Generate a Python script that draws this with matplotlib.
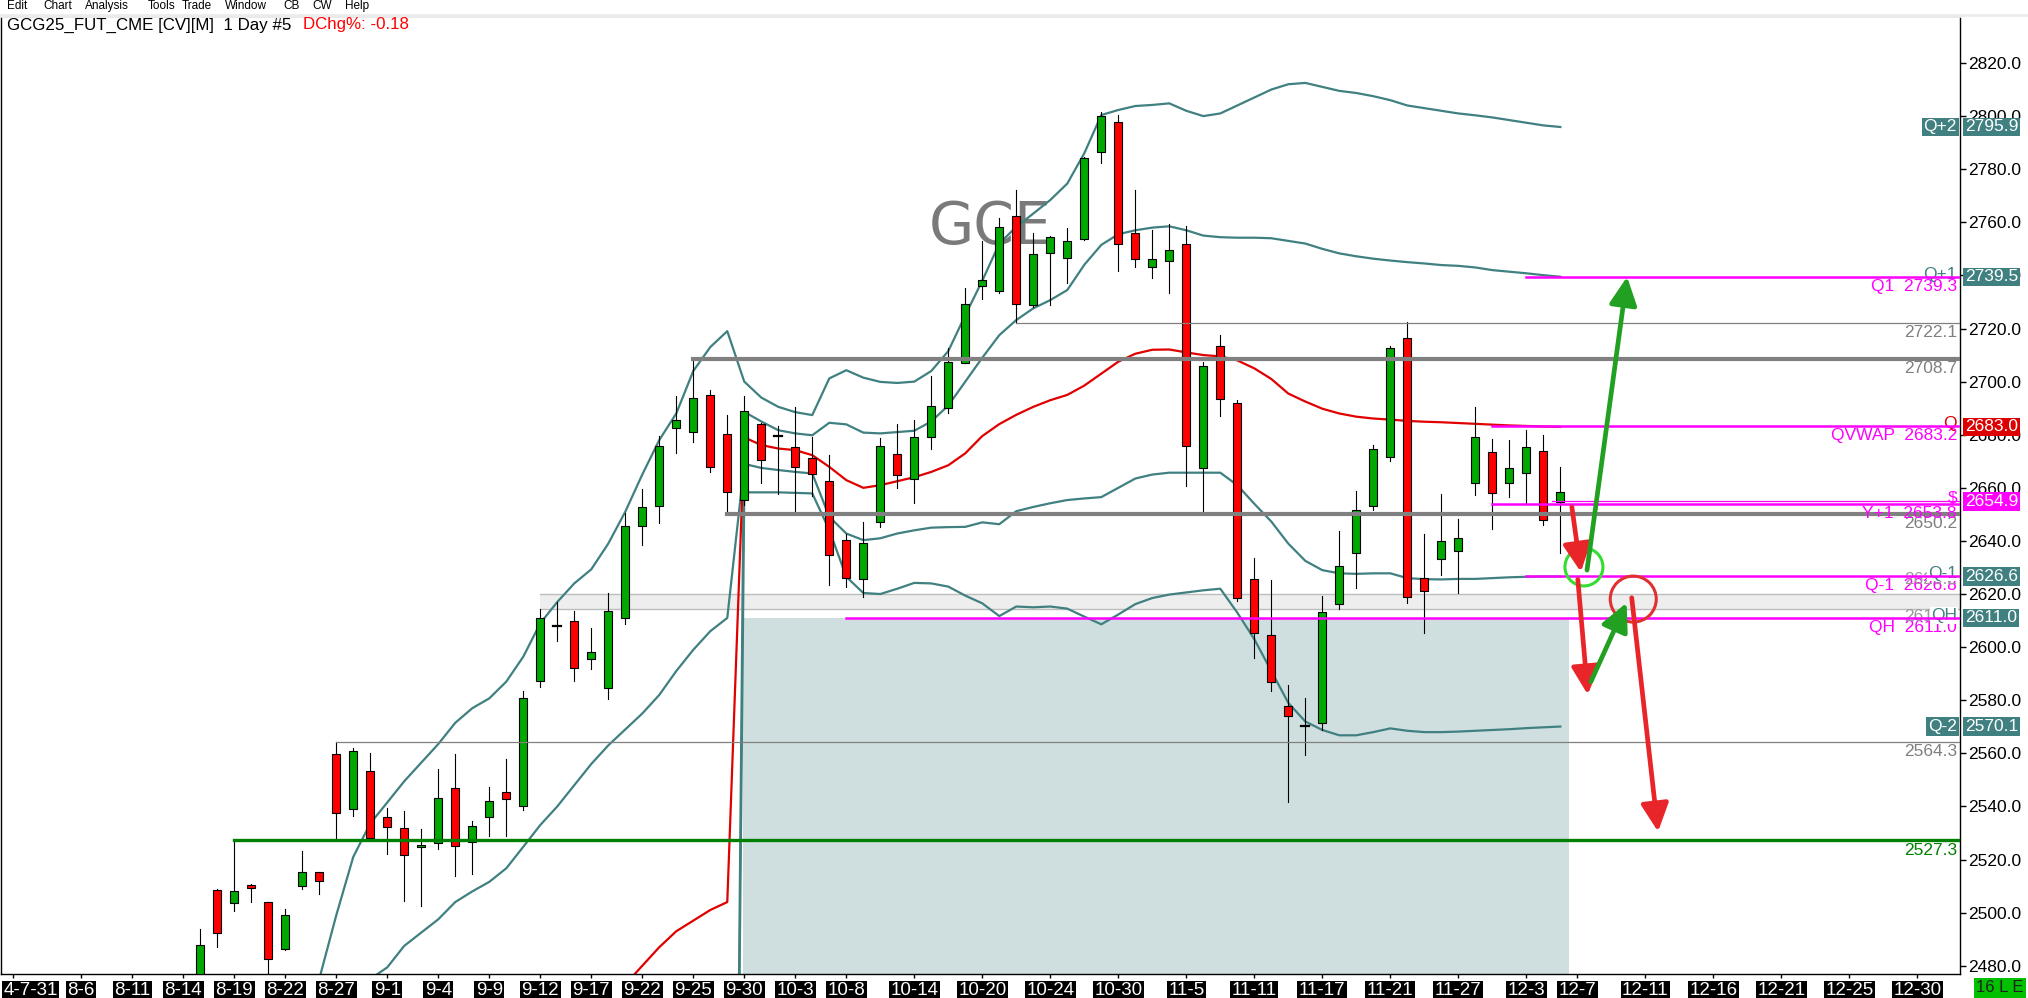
import numpy as np
import matplotlib.pyplot as plt
import matplotlib.transforms as mtransforms
from matplotlib.patches import Rectangle, Ellipse
from matplotlib.lines import Line2D

plt.rcParams['font.family'] = ['Liberation Sans', 'DejaVu Sans']

# daily bars, bar 0 = first visible candle (8-15)
opens = [2470.0, 2508.4, 2503.5, 2510.6, 2503.9, 2486.2, 2509.9, 2515.2, 2559.6, 2538.9,
         2553.2, 2535.9, 2531.7, 2524.6, 2526.1, 2546.8, 2526.5, 2535.9, 2545.3, 2540.3,
         2587.1, 2608.0, 2609.7, 2595.7, 2584.7, 2610.8, 2645.7, 2653.0, 2682.4, 2680.9,
         2694.8, 2680.1, 2655.6, 2684.2, 2679.6, 2675.2, 2671.4, 2662.4, 2640.2, 2625.5,
         2647.0, 2672.6, 2663.2, 2679.0, 2689.9, 2707.2, 2735.9, 2734.2, 2762.2, 2728.7,
         2748.3, 2746.4, 2753.6, 2786.3, 2797.6, 2755.8, 2743.0, 2745.6, 2752.0, 2667.5,
         2713.4, 2691.9, 2625.8, 2604.7, 2578.0, 2570.2, 2571.4, 2616.3, 2635.5, 2653.2,
         2671.5, 2716.6, 2625.9, 2633.1, 2636.1, 2661.7, 2673.4, 2661.7, 2665.4, 2673.7,
         2654.6]
highs = [2493.8, 2508.8, 2527.3, 2510.9, 2504.2, 2501.4, 2523.2, 2515.5, 2564.3, 2561.9,
         2560.1, 2539.3, 2538.3, 2531.5, 2554.1, 2559.7, 2534.5, 2547.3, 2557.8, 2583.3,
         2614.3, 2617.1, 2613.6, 2607.2, 2620.3, 2650.7, 2659.5, 2679.7, 2694.5, 2708.7,
         2696.7, 2687.4, 2694.5, 2684.5, 2683.1, 2690.4, 2679.2, 2672.3, 2642.7, 2647.0,
         2678.6, 2684.0, 2685.4, 2702.1, 2712.5, 2735.1, 2753.0, 2761.6, 2772.1, 2755.8,
         2754.8, 2757.8, 2784.6, 2801.5, 2800.6, 2772.1, 2757.1, 2759.2, 2758.5, 2707.3,
         2717.6, 2693.0, 2633.4, 2625.1, 2585.9, 2581.0, 2619.4, 2643.6, 2658.9, 2676.3,
         2713.6, 2722.6, 2642.6, 2657.7, 2648.2, 2690.4, 2678.3, 2678.0, 2681.8, 2679.9,
         2667.8]
lows = [2465.0, 2487.2, 2500.7, 2504.1, 2474.0, 2485.8, 2509.0, 2507.1, 2527.8, 2536.4,
        2527.6, 2522.1, 2504.5, 2502.6, 2523.8, 2513.9, 2514.4, 2528.8, 2528.8, 2538.8,
        2585.1, 2602.4, 2587.3, 2591.8, 2580.3, 2608.8, 2638.5, 2646.8, 2673.2, 2677.3,
        2666.0, 2650.2, 2653.5, 2661.9, 2657.8, 2651.2, 2657.0, 2623.4, 2622.7, 2618.7,
        2645.3, 2660.0, 2654.4, 2674.7, 2688.0, 2707.0, 2731.2, 2733.5, 2722.1, 2728.0,
        2728.9, 2737.0, 2753.2, 2782.2, 2741.8, 2743.0, 2739.2, 2733.2, 2660.8, 2651.0,
        2687.2, 2617.3, 2596.0, 2583.4, 2541.7, 2559.4, 2568.8, 2614.3, 2622.2, 2651.5,
        2670.0, 2616.7, 2605.4, 2627.3, 2620.5, 2657.4, 2644.6, 2656.7, 2654.0, 2646.1,
        2635.6]
closes = [2487.7, 2492.2, 2508.0, 2509.4, 2482.4, 2499.0, 2515.2, 2512.0, 2537.6, 2560.7,
          2528.0, 2532.1, 2521.9, 2525.3, 2543.0, 2525.0, 2532.5, 2541.9, 2542.7, 2580.7,
          2610.8, 2607.8, 2592.0, 2598.0, 2613.8, 2645.5, 2652.6, 2675.6, 2685.4, 2694.0,
          2667.8, 2658.3, 2689.1, 2670.6, 2679.4, 2667.7, 2665.3, 2634.8, 2626.1, 2639.4,
          2675.6, 2664.7, 2679.0, 2691.0, 2707.5, 2729.4, 2738.1, 2758.4, 2729.4, 2747.9,
          2754.3, 2752.8, 2784.4, 2799.9, 2751.7, 2746.0, 2746.0, 2749.7, 2675.6, 2706.0,
          2693.4, 2618.6, 2605.5, 2587.0, 2574.2, 2570.2, 2613.2, 2630.6, 2651.6, 2674.6,
          2712.6, 2618.7, 2621.0, 2639.8, 2641.0, 2679.0, 2657.9, 2667.3, 2675.2, 2647.9,
          2658.3]

# date axis
tick_bars = [-11, -7, -4, -1, 2, 5, 8, 11, 14, 17, 20, 23, 26, 29, 32, 35, 38, 42, 46,
             50, 54, 58, 62, 66, 70, 74, 78, 81, 85, 89, 93, 97, 101]
tick_text = ['4-7-31', '8-6', '8-11', '8-14', '8-19', '8-22', '8-27', '9-1', '9-4', '9-9',
             '9-12', '9-17', '9-22', '9-25', '9-30', '10-3', '10-8', '10-14', '10-20',
             '10-24', '10-30', '11-5', '11-11', '11-17', '11-21', '11-27', '12-3', '12-7',
             '12-11', '12-16', '12-21', '12-25', '12-30']

# quarterly vwap + bands (first bar of each series, then values)
vwap_start = 24
vwap = [2466, 2473, 2480, 2487, 2493, 2497, 2501, 2504, 2679, 2676.1, 2674.8, 2674.2, 2672.3,
        2667.9, 2662.9, 2660, 2661, 2662.5, 2664, 2666, 2668.5, 2673, 2679.5, 2684, 2687.5,
        2690.5, 2693, 2695, 2698.5, 2703, 2707.5, 2710.5, 2712, 2712.1, 2711, 2710, 2709.5,
        2708, 2705, 2701, 2695.5, 2692.5, 2689.8, 2688, 2686.8, 2686.1, 2685.7, 2685.2,
        2684.9, 2684.7, 2684.4, 2684.1, 2683.8, 2683.5, 2683.3, 2683.1, 2683.0]
qp2_start = 6
band_qp2 = [2455, 2475, 2499, 2521, 2533.6, 2541.5, 2549.5, 2556.5, 2563.5, 2571.5, 2577,
            2580.7, 2587, 2596.4, 2609, 2617, 2624, 2629.3, 2639, 2651, 2665, 2678, 2688, 2704,
            2713, 2719, 2700, 2694, 2690.5, 2688.5, 2687.4, 2701.2, 2704.3, 2701.5, 2699.9,
            2699.5, 2700, 2704, 2711.5, 2725, 2738, 2752, 2758.3, 2763.3, 2768.4, 2774.6, 2786,
            2800.4, 2802.3, 2803.8, 2804.2, 2804.8, 2802, 2800, 2801, 2804, 2807, 2810, 2812,
            2812.5, 2811, 2809.5, 2808.7, 2807.5, 2806, 2804, 2803, 2802, 2801, 2800.3, 2799.5,
            2798.5, 2797.5, 2796.5, 2795.9]
qm1_start = 10
band_qm1 = [2475, 2479.4, 2487.5, 2492.5, 2497.5, 2504, 2508, 2511.6, 2516.7, 2524.8, 2533,
            2540, 2548, 2556, 2563, 2569, 2575, 2582, 2591, 2599, 2606, 2611, 2669, 2667.5,
            2666.7, 2666, 2665.4, 2649.1, 2642.8, 2640.3, 2641, 2642.8, 2644, 2645, 2645.2,
            2645.3, 2647, 2646.3, 2651.2, 2652.8, 2654.2, 2655.4, 2656, 2656.5, 2660, 2663.5,
            2665, 2665.7, 2665.7, 2665.7, 2665.7, 2661, 2654, 2647.3, 2639, 2632.5, 2629,
            2627.8, 2627.6, 2627.8, 2627.8, 2626, 2625.6, 2625.5, 2625.7, 2625.7, 2626, 2626.3,
            2626.5, 2626.6, 2626.6]
qp1_start = 31
band_qp1 = [2000, 2688.6, 2685, 2681.7, 2680.5, 2679.8, 2684.5, 2683.9, 2680.8, 2680.5, 2681,
            2681.5, 2685, 2691, 2700, 2709, 2717.5, 2723.2, 2727.6, 2730.7, 2734.5, 2744,
            2751.5, 2755.5, 2757, 2758, 2758.5, 2757, 2755, 2754.4, 2754.2, 2754.2, 2754, 2753,
            2752, 2750, 2748.3, 2747.2, 2746.3, 2745.6, 2745, 2744.5, 2743.9, 2743.6, 2743,
            2742, 2741.4, 2740.8, 2740.1, 2739.5]
qm2_start = 31
band_qm2 = [2000, 2658.3, 2658.3, 2658.3, 2658.1, 2657.9, 2644.1, 2626.5, 2620.4, 2620, 2622,
            2624.2, 2624, 2622.8, 2619.4, 2616.5, 2611.7, 2615.3, 2615, 2615.3, 2614.5, 2611.5,
            2608.6, 2612.3, 2616.2, 2618.5, 2619.8, 2620.6, 2621.4, 2622, 2613, 2603, 2591,
            2579, 2572, 2568.8, 2566.8, 2566.8, 2568, 2569.4, 2568.5, 2568, 2568, 2568.2,
            2568.5, 2568.8, 2569.1, 2569.5, 2569.8, 2570.1]

# horizontal levels: price, first bar, label
gray_thin = [(2722.1, 48), (2564.3, 8)]
gray_thick = [(2708.7, 29), (2650.2, 31)]
green_level = (2527.3, 2)
band_zone = (2614.2, 2620.2, 20)
shade_zone = (31.9, 80.5, 2611.0)
magenta_levels = [(2739.3, 78, 'Q1  2739.3'), (2683.2, 76, 'QVWAP  2683.2'),
                  (2653.8, 76, 'Y+1  2653.8'), (2626.8, 78, 'Q-1  2626.8'),
                  (2611.0, 38, 'QH  2611.0')]
last_price = (2654.9, 79.5)

W, H = 2028, 998
fig = plt.figure(figsize=(W / 100, H / 100), dpi=100)
ax_l, ax_r, ax_t, ax_b = 1, 1960, 16, 974
ax = fig.add_axes([ax_l / W, 1 - ax_b / H, (ax_r - ax_l) / W, (ax_b - ax_t) / H])
xlim = (-11.72, 103.51)
ylim = (2476.9, 2837.7)
ax.set_xlim(*xlim)
ax.set_ylim(*ylim)
px_bar = (ax_r - ax_l) / (xlim[1] - xlim[0])
px_pt = (ax_b - ax_t) / (ylim[1] - ylim[0])

teal = '#408080'
magenta = '#ff00ff'

# zones
x0, x1, top = shade_zone
ax.add_patch(Rectangle((x0, ylim[0] - 5), x1 - x0, top - ylim[0] + 5, fc='#cfdfe0', ec='none', zorder=0.3))
lo, hi, b0 = band_zone
ax.add_patch(Rectangle((b0, lo), xlim[1] - b0, hi - lo, fc='#eeeeee', ec='none', zorder=0.4))
for v in (lo, hi):
    ax.plot([b0, xlim[1]], [v, v], color='#bdbdbd', lw=1.0, zorder=0.45)

ax.text(46.45, 2758.0, 'GCE', fontsize=42, color='#7a7a7a', ha='center', va='center',
        family='DejaVu Sans', zorder=0.6)

# vwap and bands
for start, vals, col in [(qp2_start, band_qp2, teal), (qm1_start, band_qm1, teal),
                         (qp1_start, band_qp1, teal), (qm2_start, band_qm2, teal),
                         (vwap_start, vwap, '#e00000')]:
    xs = np.arange(start, start + len(vals))
    ax.plot(xs, vals, color=col, lw=1.6, zorder=1, solid_joinstyle='round')

# candles
bw = 0.46
for i in range(len(opens)):
    o, h, l, c = opens[i], highs[i], lows[i], closes[i]
    ax.plot([i, i], [l, h], color='black', lw=0.8, zorder=2)
    if abs(c - o) < 0.25:
        ax.plot([i - bw / 2, i + bw / 2], [o, o], color='black', lw=1.6, zorder=3)
        continue
    col = '#00a800' if c > o else '#ff0000'
    ax.add_patch(Rectangle((i - bw / 2, min(o, c)), bw, abs(c - o), fc=col, ec='black',
                           lw=0.8, zorder=3))

# horizontal levels
for v, s in gray_thin:
    ax.plot([s, xlim[1]], [v, v], color='#808080', lw=0.9, zorder=4)
for v, s in gray_thick:
    ax.plot([s, xlim[1]], [v, v], color='#808080', lw=3.0, zorder=4)
ax.plot([green_level[1], xlim[1]], [green_level[0]] * 2, color='#008000', lw=2.4, zorder=4)
for v, s, _ in magenta_levels:
    ax.plot([s, xlim[1]], [v, v], color=magenta, lw=1.8, zorder=7)
ax.plot([last_price[1], xlim[1]], [last_price[0]] * 2, color=magenta, lw=0.9, zorder=7)

# right-edge labels inside the plot
ytr = ax.get_yaxis_transform()
xr = (1957 - ax_l) / (ax_r - ax_l)
lab = dict(transform=ytr, ha='right', va='center', fontsize=12.5, zorder=6)
for v, s in gray_thin + gray_thick:
    ax.text(xr, v - 3.7, f'{v:.1f}', color='#808080', **lab)
ax.text(xr, green_level[0] - 3.7, f'{green_level[0]:.1f}', color='#008000', **lab)
for v, s, t in magenta_levels:
    ax.text(xr, v - 3.6, t, color=magenta, **lab)
ax.text(xr, 2625.3, '2620.2', color='#9a9a9a', **lab)
ax.text(xr, 2611.6, '2614.2', color='#9a9a9a', **lab)
wb = dict(boxstyle='square,pad=0.05', fc='white', ec='none')
ax.text(xr, 2740.2, 'Q+1', color=teal, **lab)
ax.text(xr, 2684.2, 'Q', color='#e00000', **lab)
ax.text(xr, 2656.0, '$', color=magenta, **lab)
ax.text(xr, 2627.9, 'Q-1', color=teal, bbox=wb, **lab)
ax.text(xr, 2612.0, 'QH', color=teal, bbox=wb, **lab)
tb = dict(boxstyle='square,pad=0.1', fc=teal, ec='none')
ax.text(xr, 2795.9, 'Q+2', color='white', bbox=tb, **lab)
ax.text(xr, 2570.1, 'Q-2', color='white', bbox=tb, **lab)

# price tags on the axis
for v, fc in [(2795.9, teal), (2739.5, teal), (2683.0, '#dd0000'), (2654.9, magenta),
              (2626.6, teal), (2611.0, teal), (2570.1, teal)]:
    ax.text(1.0026, v, f'{v:.1f}', transform=ytr, ha='left', va='center', fontsize=12.5,
            color='white', clip_on=False, zorder=10,
            bbox=dict(boxstyle='square,pad=0.1', fc=fc, ec='none'))

# annotations: circles and arrows
for (cx, cy, r, col) in [(81.39, 2630.2, 19, '#33dd33'), (84.29, 2618.1, 23, '#e03030')]:
    ax.add_patch(Ellipse((cx, cy), 2 * r / px_bar, 2 * r / px_pt, fill=False, ec=col, lw=2.2, zorder=8))
arrows = [((80.68, 2652.8), (81.21, 2628.3), '#e8262a'),
          ((81.57, 2629.0), (83.93, 2739.5), '#22a022'),
          ((81.03, 2625.5), (81.62, 2582.1), '#e8262a'),
          ((81.80, 2587.0), (83.90, 2616.7), '#22a022'),
          ((84.20, 2618.6), (85.75, 2530.5), '#e8262a')]
for a, b, col in arrows:
    ax.annotate('', xy=b, xytext=a, zorder=9,
                arrowprops=dict(arrowstyle='-|>,head_length=0.85,head_width=0.42', color=col,
                                lw=3.4, mutation_scale=20, shrinkA=0, shrinkB=0))

# axes styling
ax.yaxis.tick_right()
ax.set_yticks(np.arange(2480, 2821, 20))
ax.set_yticklabels([f'{v:.1f}' for v in np.arange(2480, 2821, 20)])
ax.tick_params(axis='y', direction='out', length=4, width=1, pad=2, labelsize=12.5, colors='black')
ax.set_xticks(tick_bars)
ax.set_xticklabels(tick_text)
ax.tick_params(axis='x', direction='out', length=3, width=1, pad=3)
for t in ax.get_xticklabels():
    t.set_color('white')
    t.set_fontsize(13.5)
    t.set_family(['Liberation Sans Narrow', 'Liberation Sans'])
    t.set_bbox(dict(boxstyle='square,pad=0.08', fc='black', ec='none'))
# first date label sits flush with the left edge of the window
first = ax.get_xticklabels()[0]
first.set_ha('left')
first.set_transform(first.get_transform() + mtransforms.ScaledTranslation(-10 / 100, 0, fig.dpi_scale_trans))
for s in ('left', 'bottom', 'right'):
    ax.spines[s].set_color('black')
    ax.spines[s].set_linewidth(1.0)
ax.spines['top'].set_color('#e6e6e6')
ax.spines['top'].set_linewidth(2)

# window chrome
fig.add_artist(Line2D([0, 1], [1 - 15 / H, 1 - 15 / H], color='#ececec', lw=2))
menu = [('Edit', 7), ('Chart', 43), ('Analysis', 85), ('Tools', 148), ('Trade', 182),
        ('Window', 225), ('CB', 283), ('CW', 312), ('Help', 345)]
for t, x in menu:
    fig.text(x / W, 1 - 6 / H, t, fontsize=8.5, va='center', ha='left')
fig.text(7 / W, 1 - 25 / H, 'GCG25_FUT_CME [CV][M]  1 Day #5', fontsize=12.2, va='center')
fig.text(303 / W, 1 - 25 / H, 'DChg%: -0.18', fontsize=12.2, va='center', color='#ff0000')
fig.text(2000 / W, 1 - 987.5 / H, '16 L E', fontsize=12, va='center', ha='center', color='#202020',
         bbox=dict(boxstyle='square,pad=0.15', fc='#00c000', ec='none'))

fig.savefig('out.png', dpi=100)
